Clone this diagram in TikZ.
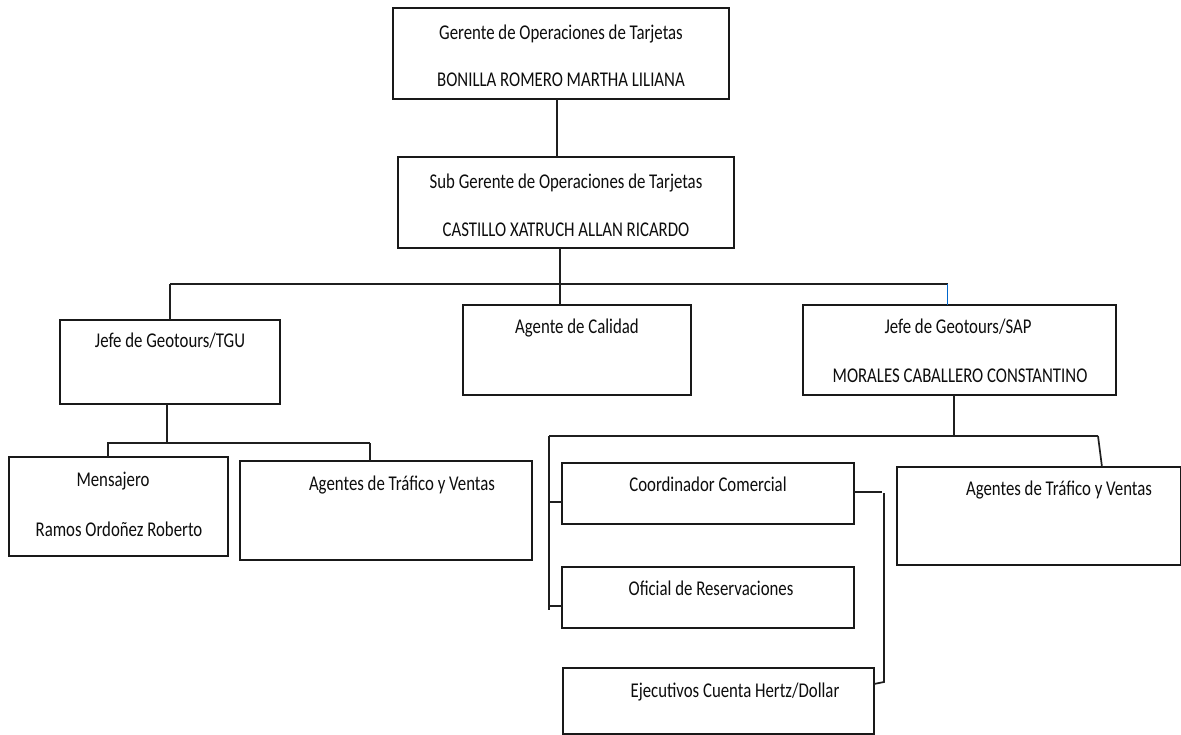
\documentclass[tikz,border=0pt]{standalone}
\usepackage{fontspec}
\setmainfont{Carlito}[FakeStretch=0.8]
\begin{document}
\begin{tikzpicture}[x=1pt,y=-1pt,
  box/.style={draw=black!90, line width=1.7pt, inner sep=0pt, outer sep=0pt, fill=none},
  lbl/.style={anchor=base, inner sep=0pt, text=black!95, font=\fontsize{21}{25}\selectfont},
  conn/.style={draw=black!88, line width=1.7pt},
  blueconn/.style={draw=blue!50!cyan!80!black, line width=1pt}]
\useasboundingbox (0,0) rectangle (1181,735);
\fill[white] (0,0) rectangle (1181,735);
% boxes
\node[box, minimum width=336pt, minimum height=91pt] (g1) at (561,53.5) {};
\node[box, minimum width=336pt, minimum height=91pt] (g2) at (566,202.5) {};
\node[box, minimum width=220pt, minimum height=84pt] (tgu) at (170,362) {};
\node[box, minimum width=228pt, minimum height=90pt] (cal) at (577,350) {};
\node[box, minimum width=313pt, minimum height=90pt] (sap) at (959.5,350) {};
\node[box, minimum width=219pt, minimum height=99pt] (men) at (118.5,506.5) {};
\node[box, minimum width=292pt, minimum height=99pt] (ag1) at (386,510.5) {};
\node[box, minimum width=292pt, minimum height=61pt] (coo) at (708,493.5) {};
\node[box, minimum width=292pt, minimum height=61pt] (ofi) at (708,597.5) {};
\node[box, minimum width=311pt, minimum height=66pt] (eje) at (718.5,701) {};
\node[box, minimum width=284pt, minimum height=98pt] (ag2) at (1039,516) {};
% texts
\node[lbl] (t1a) at (561,40) {Gerente de Operaciones de Tarjetas};
\node[lbl] (t1b) at (561,87) {BONILLA ROMERO MARTHA LILIANA};
\node[lbl] (t2a) at (566,189) {Sub Gerente de Operaciones de Tarjetas};
\node[lbl] (t2b) at (566,237) {CASTILLO XATRUCH ALLAN RICARDO};
\node[lbl] (ttgu) at (170,348) {Jefe de Geotours/TGU};
\node[lbl] (tcal) at (577,334) {Agente de Calidad};
\node[lbl] (tsapa) at (958,334) {Jefe de Geotours/SAP};
\node[lbl] (tsapb) at (960,382) {MORALES CABALLERO CONSTANTINO};
\node[lbl] (tmena) at (113,486) {Mensajero};
\node[lbl] (tmenb) at (119,536) {Ramos Ordoñez Roberto};
\node[lbl] (tag1) at (402,490) {Agentes de Tráfico y Ventas};
\node[lbl] (tcoo) at (708,491) {Coordinador Comercial};
\node[lbl] (tofi) at (711,595) {Oficial de Reservaciones};
\node[lbl] (teje) at (735,697) {Ejecutivos Cuenta Hertz/Dollar};
\node[lbl] (tag2) at (1059,495) {Agentes de Tráfico y Ventas};
% junction coordinates
\coordinate (c1) at (557,0);
\coordinate (c2) at (560,284);
\coordinate (bl) at (170,284);
\coordinate (br) at (948,284);
\coordinate (bb) at (947,284);
\coordinate (d1) at (167,443);
\coordinate (sl) at (107,443);
\coordinate (sr) at (370,443);
\coordinate (sm) at (108,443);
\coordinate (e1) at (954,436);
\coordinate (el) at (549,436);
\coordinate (er) at (1098,436);
\coordinate (ed) at (1102,0);
\coordinate (ev) at (549,610);
\coordinate (k1) at (549,502);
\coordinate (k2) at (549,606);
\coordinate (h1) at (882,492);
\coordinate (h2) at (884,493);
\coordinate (h3) at (884,682);
\coordinate (h4) at (0,684);
% connectors
\draw[conn] (g1.south -| c1) -- (g2.north -| c1);
\draw[conn] (g2.south -| c2) -- (cal.north -| c2);
\draw[conn] (bl) -- (br);
\draw[conn] (bl) -- (tgu.north -| bl);
\draw[blueconn] (bb) -- (sap.north -| bb);
\draw[conn] (tgu.south -| d1) -- (d1);
\draw[conn] (sl) -- (sr);
\draw[conn] (sm) -- (men.north -| sm);
\draw[conn] (sr) -- (ag1.north -| sr);
\draw[conn] (sap.south -| e1) -- (e1);
\draw[conn] (el) -- (er);
\draw[conn] (er) -- (ag2.north -| ed);
\draw[conn] (el) -- (ev);
\draw[conn] (k1) -- (coo.west |- k1);
\draw[conn] (k2) -- (ofi.west |- k2);
\draw[conn] (coo.east |- h1) -- (h1);
\draw[conn] (h2) -- (h3) -- (eje.east |- h4);
\end{tikzpicture}
\end{document}
